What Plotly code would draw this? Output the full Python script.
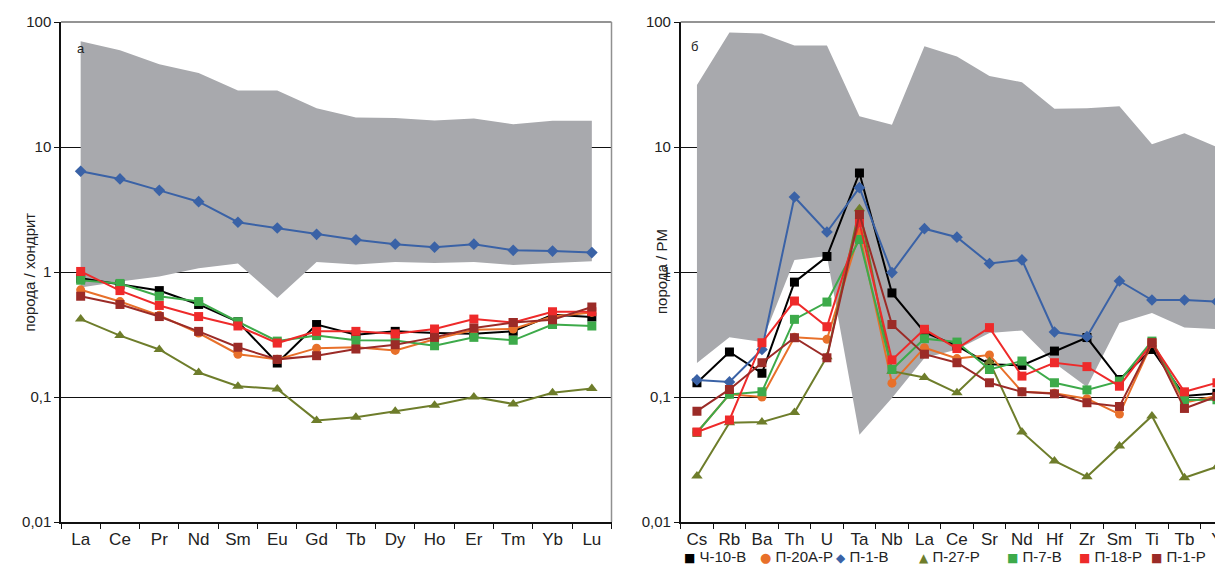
import plotly.graph_objects as go

# ---------------- data: left panel (chondrite-normalised REE) ----------------
ree = ["La", "Ce", "Pr", "Nd", "Sm", "Eu", "Gd", "Tb", "Dy", "Ho", "Er", "Tm", "Yb", "Lu"]
ree_band_hi = [70.3, 59.4, 46, 39, 28.3, 28.3, 20.4, 17.2, 17.1, 16.3, 16.9, 15.2, 16.2, 16.2]
ree_band_lo = [0.75, 0.84, 0.92, 1.07, 1.17, 0.62, 1.2, 1.15, 1.2, 1.18, 1.2, 1.14, 1.18, 1.22]
ree_ch10 = [0.89, 0.79, 0.71, 0.55, 0.40, 0.187, 0.38, 0.315, 0.335, 0.325, 0.32, 0.335, 0.455, 0.436]
ree_p20a = [0.72, 0.58, 0.45, 0.325, 0.22, 0.20, 0.246, 0.25, 0.236, 0.29, 0.345, 0.35, 0.44, 0.475]
ree_p1b = [6.4, 5.55, 4.5, 3.65, 2.5, 2.25, 2.0, 1.81, 1.67, 1.58, 1.67, 1.49, 1.47, 1.43]
ree_p27 = [0.42, 0.31, 0.24, 0.157, 0.122, 0.116, 0.065, 0.069, 0.077, 0.086, 0.1, 0.088, 0.108, 0.117]
ree_p7 = [0.86, 0.81, 0.64, 0.58, 0.40, 0.28, 0.31, 0.284, 0.283, 0.257, 0.30, 0.284, 0.38, 0.37]
ree_p18 = [1.01, 0.71, 0.54, 0.44, 0.37, 0.27, 0.335, 0.335, 0.32, 0.35, 0.42, 0.395, 0.48, 0.48]
ree_p1r = [0.64, 0.55, 0.44, 0.335, 0.25, 0.2, 0.214, 0.242, 0.262, 0.30, 0.356, 0.395, 0.415, 0.525]

# ---------------- data: right panel (primitive-mantle normalised) ----------------
spi = ["Cs", "Rb", "Ba", "Th", "U", "Ta", "Nb", "La", "Ce", "Sr", "Nd", "Hf", "Zr", "Sm", "Ti", "Tb", "Y"]
spi_band_hi = [31.3, 82.6, 81, 65, 65, 17.6, 15.1, 64, 53, 36.9, 33, 20.2, 20.4, 21.2, 10.5, 12.9, 10]
spi_band_lo = [0.187, 0.30, 0.276, 1.25, 1.34, 0.05, 0.098, 0.205, 0.24, 0.325, 0.34, 0.187, 0.12, 0.39, 0.47, 0.36, 0.35]
spi_ch10 = [0.13, 0.229, 0.155, 0.83, 1.33, 6.2, 0.68, 0.33, 0.256, 0.183, 0.179, 0.233, 0.299, 0.138, 0.24, 0.102, 0.107]
spi_p20a = [0.052, 0.105, 0.10, 0.30, 0.29, 2.06, 0.129, 0.248, 0.203, 0.217, 0.11, 0.107, 0.097, 0.073, 0.27, 0.09, 0.102]
spi_p1b = [0.137, 0.132, 0.24, 3.98, 2.09, 4.73, 0.99, 2.22, 1.9, 1.17, 1.25, 0.331, 0.304, 0.847, 0.597, 0.597, 0.579]
spi_p27 = [0.0233, 0.0623, 0.063, 0.075, 0.21, 3.21, 0.161, 0.143, 0.108, 0.192, 0.0525, 0.0308, 0.023, 0.0405, 0.0705, 0.0226, 0.0277]
spi_p7 = [0.052, 0.105, 0.11, 0.418, 0.575, 1.82, 0.166, 0.293, 0.275, 0.166, 0.194, 0.13, 0.114, 0.134, 0.28, 0.0946, 0.095]
spi_p18 = [0.0525, 0.0655, 0.272, 0.586, 0.365, 2.48, 0.198, 0.348, 0.244, 0.359, 0.147, 0.188, 0.175, 0.122, 0.27, 0.11, 0.13]
spi_p1r = [0.077, 0.115, 0.188, 0.298, 0.206, 2.89, 0.38, 0.22, 0.188, 0.13, 0.11, 0.106, 0.09, 0.084, 0.272, 0.081, 0.101]

series_names = ["Ч-10-В", "П-20А-Р", "П-1-В", "П-27-Р", "П-7-В", "П-18-Р", "П-1-Р"]
ytick_vals = [0.01, 0.1, 1, 10, 100]
ytick_text = ["0,01", "0,1", "1", "10", "100"]

# ---------------- styles ----------------
colors = ["#000000", "#E8702A", "#3A62A6", "#6E7D2B", "#3DAA4A", "#EE2A2A", "#9B2B27"]
symbols = ["square", "circle", "diamond", "triangle-up", "square", "square", "square"]
msizes = [9, 9, 9, 10, 9, 9, 9]
glyphs = ["■", "●", "◆", "▲", "■", "■", "■"]
band_color = "#A8A9AD"
FONT = "Liberation Sans, Arial, sans-serif"

ree_series = [ree_ch10, ree_p20a, ree_p1b, ree_p27, ree_p7, ree_p18, ree_p1r]
spi_series = [spi_ch10, spi_p20a, spi_p1b, spi_p27, spi_p7, spi_p18, spi_p1r]

# page body has an 8px margin: figure is sized/positioned to compensate
OFF = 8
W, H = 1223 - OFF, 571 - OFF

def px(x):  # reference viewport x -> paper fraction
    return (x - OFF) / W

plot_top, plot_bot = 22 - OFF, 522 - OFF

def py(y):  # reference viewport y -> paper fraction (relative to plot area)
    return (plot_bot - (y - OFF)) / (plot_bot - plot_top)

fig = go.Figure()

# shaded fields
fig.add_trace(go.Scatter(x=ree + ree[::-1], y=ree_band_hi + ree_band_lo[::-1],
                         fill="toself", fillcolor=band_color, mode="none",
                         showlegend=False, hoverinfo="skip", xaxis="x", yaxis="y"))
fig.add_trace(go.Scatter(x=spi + spi[::-1], y=spi_band_hi + spi_band_lo[::-1],
                         fill="toself", fillcolor=band_color, mode="none",
                         showlegend=False, hoverinfo="skip", xaxis="x2", yaxis="y2"))

for i, name in enumerate(series_names):
    for cats, vals, xa, ya in ((ree, ree_series[i], "x", "y"), (spi, spi_series[i], "x2", "y2")):
        fig.add_trace(go.Scatter(
            x=cats, y=vals, mode="lines+markers", name=name,
            line=dict(color=colors[i], width=2),
            marker=dict(symbol=symbols[i], size=msizes[i], color=colors[i]),
            showlegend=False, xaxis=xa, yaxis=ya))

# ---------------- layout ----------------
def yaxis_cfg(anchor):
    return dict(type="log", range=[-2, 2], tickvals=ytick_vals, ticktext=ytick_text,
                showgrid=True, gridcolor="#111111", gridwidth=1,
                showline=True, linecolor="#111111", linewidth=1.5,
                ticks="outside", ticklen=5, tickcolor="#111111",
                tickfont=dict(family=FONT, size=15, color="#222222"),
                zeroline=False, anchor=anchor, fixedrange=True, automargin=False)

def xaxis_cfg(domain, cats, rng, anchor):
    return dict(domain=domain, type="category", categoryorder="array", categoryarray=cats,
                range=rng, showgrid=False, showline=True, linecolor="#111111", linewidth=1.5,
                ticks="outside", ticklen=5, tickcolor="#111111", tickson="boundaries",
                tickangle=0, ticklabelstandoff=1,
                tickfont=dict(family=FONT, size=17, color="#222222"),
                zeroline=False, anchor=anchor, fixedrange=True, automargin=False)

cat_w_right = 32.5
right_max = (1223 - 680.7) / cat_w_right - 0.5

fig.update_layout(
    template="none",
    width=W, height=H,
    margin=dict(l=0, r=0, t=plot_top, b=H - plot_bot, pad=0),
    paper_bgcolor="white", plot_bgcolor="white",
    showlegend=False,
    font=dict(family=FONT, color="#222222"),
    xaxis=xaxis_cfg([px(61), px(611.5)], ree, [-0.5, 13.5], "y"),
    yaxis=yaxis_cfg("x"),
    xaxis2=xaxis_cfg([px(680.7), 1.0], spi, [-0.5, right_max], "y2"),
    yaxis2=yaxis_cfg("x2"),
)

# panel frame (top / right) in gray
fig.add_shape(type="line", xref="x domain", yref="y domain", x0=0, x1=1, y0=1, y1=1,
              line=dict(color="#707070", width=1.5))
fig.add_shape(type="line", xref="x domain", yref="y domain", x0=1, x1=1, y0=0, y1=1,
              line=dict(color="#909090", width=1.5))
fig.add_shape(type="line", xref="x2 domain", yref="y2 domain", x0=0, x1=1, y0=1, y1=1,
              line=dict(color="#707070", width=1.5))

annots = []
# axis titles
annots.append(dict(text="порода / хондрит", x=px(18), y=py(272), xref="paper", yref="paper",
                   textangle=-90, showarrow=False, font=dict(family=FONT, size=15, color="#222222")))
annots.append(dict(text="порода / PM", x=px(661), y=py(272), xref="paper", yref="paper",
                   textangle=-90, showarrow=False, font=dict(family=FONT, size=15, color="#222222")))
# panel letters
annots.append(dict(text="а", x=px(75), y=py(39), xref="paper", yref="paper", showarrow=False,
                   font=dict(family=FONT, size=13, color="#222222")))
annots.append(dict(text="б", x=px(694), y=py(37), xref="paper", yref="paper", showarrow=False,
                   font=dict(family=FONT, size=13, color="#222222")))

# legend row (below right panel): coloured glyph + name in one text
leg_left_x = [683.5, 758.5, 835.5, 917.5, 1005.5, 1077.5, 1149.5]
glyph_sizes = [12, 13, 12, 12, 12, 12, 12]
for i, name in enumerate(series_names):
    txt = ('<span style="color:%s;font-size:%dpx;font-family:DejaVu Sans">%s</span> %s'
           % (colors[i], glyph_sizes[i], glyphs[i], name))
    annots.append(dict(text=txt, x=px(leg_left_x[i]), y=py(556), xref="paper", yref="paper",
                       xanchor="left", yanchor="middle", showarrow=False, borderpad=0,
                       font=dict(family=FONT, size=15, color="#222222")))

fig.update_layout(annotations=annots)

fig.write_html("out.html")
